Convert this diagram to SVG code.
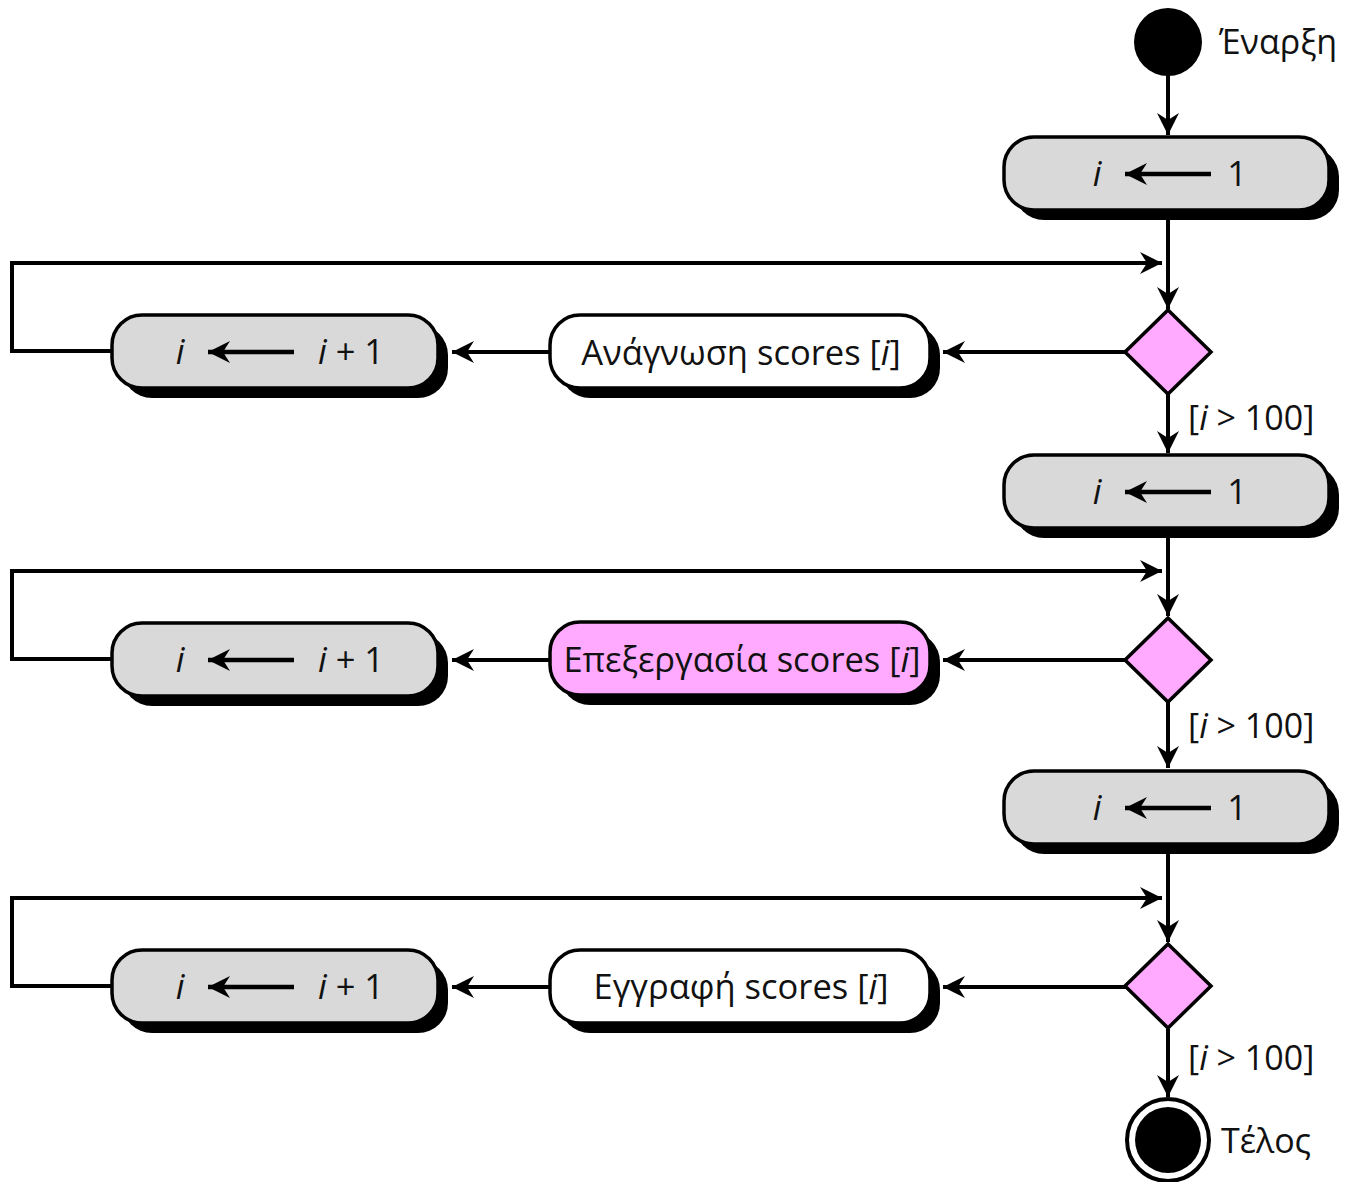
<svg xmlns="http://www.w3.org/2000/svg" width="1345" height="1182" viewBox="0 0 1345 1182">
  <style>
    .txt { font-family: "Open Sans", "Noto Sans", "DejaVu Sans", sans-serif; font-size: 34.5px; fill: #111; }
    .lbl { font-family: "Open Sans", "Noto Sans", "DejaVu Sans", sans-serif; font-size: 34px; fill: #111; }
    .it { font-style: italic; }
    .box { stroke: #000; stroke-width: 3.5; }
    .shadow { fill: #000; }
    .grey { fill: #d9d9d9; }
    .white { fill: #ffffff; }
    .pink { fill: #ffaaff; }
    .conn { fill: none; stroke: #000; stroke-width: 4; }
    .inarrow { fill: none; stroke: #000; stroke-width: 4.5; }
  </style>
  <defs>
    <marker id="head" markerUnits="userSpaceOnUse" markerWidth="26" markerHeight="26" viewBox="0 0 26 26" refX="24" refY="13" orient="auto">
      <path d="M2,2 L24,13 L2,24 L9,13 Z" fill="#000"/>
    </marker>
  </defs>

  <rect width="1345" height="1182" fill="#fff"/>

  <!-- connectors -->
  <g id="connectors">
    <line class="conn" x1="1168" y1="74" x2="1168" y2="135" marker-end="url(#head)"/>
    <!-- loop 1 -->
    <line class="conn" x1="1168" y1="210" x2="1168" y2="309" marker-end="url(#head)"/>
    <polyline class="conn" points="114,351 12,351 12,263 1162,263" marker-end="url(#head)"/>
    <line class="conn" x1="1126" y1="352" x2="943" y2="352" marker-end="url(#head)"/>
    <line class="conn" x1="550" y1="352" x2="452" y2="352" marker-end="url(#head)"/>
    <line class="conn" x1="1168" y1="394" x2="1168" y2="453" marker-end="url(#head)"/>
    <!-- loop 2 -->
    <line class="conn" x1="1168" y1="528" x2="1168" y2="616" marker-end="url(#head)"/>
    <polyline class="conn" points="114,659 12,659 12,571 1162,571" marker-end="url(#head)"/>
    <line class="conn" x1="1126" y1="660" x2="943" y2="660" marker-end="url(#head)"/>
    <line class="conn" x1="550" y1="660" x2="452" y2="660" marker-end="url(#head)"/>
    <line class="conn" x1="1168" y1="702" x2="1168" y2="768" marker-end="url(#head)"/>
    <!-- loop 3 -->
    <line class="conn" x1="1168" y1="845" x2="1168" y2="942" marker-end="url(#head)"/>
    <polyline class="conn" points="114,986 12,986 12,898 1162,898" marker-end="url(#head)"/>
    <line class="conn" x1="1126" y1="987" x2="943" y2="987" marker-end="url(#head)"/>
    <line class="conn" x1="550" y1="987" x2="452" y2="987" marker-end="url(#head)"/>
    <line class="conn" x1="1168" y1="1029" x2="1168" y2="1097" marker-end="url(#head)"/>
  </g>

  <!-- start -->
  <g id="start">
    <circle cx="1168" cy="42" r="34" fill="#000"/>
    <text class="lbl" x="1219" y="54">Έναρξη</text>
  </g>

  <!-- i ← 1 (first) -->
  <g id="init1">
    <rect class="shadow" x="1014" y="147" width="325" height="73" rx="30"/>
    <rect class="box grey" x="1004" y="137" width="325" height="73" rx="30"/>
    <text class="txt it" x="1097" y="186" text-anchor="middle">i</text>
    <line class="inarrow" x1="1211" y1="174" x2="1125" y2="174" marker-end="url(#head)"/>
    <text class="txt" x="1237" y="186" text-anchor="middle">1</text>
  </g>

  <g id="decision1">
    <polygon class="box pink" points="1168,310 1211,352 1168,394 1125,352"/>
    <text class="lbl" x="1188" y="430">[<tspan class="it">i</tspan> &gt; 100]</text>
  </g>

  <g id="read">
    <rect class="shadow" x="560" y="325" width="380" height="73" rx="30"/>
    <rect class="box white" x="550" y="315" width="380" height="73" rx="30"/>
    <text class="txt" x="741" y="365" text-anchor="middle">Ανάγνωση scores [<tspan class="it">i</tspan>]</text>
  </g>

  <g id="inc1">
    <rect class="shadow" x="122" y="325" width="326" height="73" rx="30"/>
    <rect class="box grey" x="112" y="315" width="326" height="73" rx="30"/>
    <text class="txt it" x="180" y="364" text-anchor="middle">i</text>
    <line class="inarrow" x1="294" y1="352" x2="208" y2="352" marker-end="url(#head)"/>
    <text class="txt" x="318" y="364"><tspan class="it">i</tspan> + 1</text>
  </g>

  <!-- i ← 1 (second) -->
  <g id="init2">
    <rect class="shadow" x="1014" y="465" width="325" height="73" rx="30"/>
    <rect class="box grey" x="1004" y="455" width="325" height="73" rx="30"/>
    <text class="txt it" x="1097" y="504" text-anchor="middle">i</text>
    <line class="inarrow" x1="1211" y1="492" x2="1125" y2="492" marker-end="url(#head)"/>
    <text class="txt" x="1237" y="504" text-anchor="middle">1</text>
  </g>

  <g id="decision2">
    <polygon class="box pink" points="1168,618 1211,660 1168,702 1125,660"/>
    <text class="lbl" x="1188" y="738">[<tspan class="it">i</tspan> &gt; 100]</text>
  </g>

  <g id="process">
    <rect class="shadow" x="560" y="632" width="380" height="73" rx="30"/>
    <rect class="box pink" x="550" y="622" width="380" height="73" rx="30"/>
    <text class="txt" x="742" y="672" text-anchor="middle">Επεξεργασία scores [<tspan class="it">i</tspan>]</text>
  </g>

  <g id="inc2">
    <rect class="shadow" x="122" y="633" width="326" height="73" rx="30"/>
    <rect class="box grey" x="112" y="623" width="326" height="73" rx="30"/>
    <text class="txt it" x="180" y="672" text-anchor="middle">i</text>
    <line class="inarrow" x1="294" y1="660" x2="208" y2="660" marker-end="url(#head)"/>
    <text class="txt" x="318" y="672"><tspan class="it">i</tspan> + 1</text>
  </g>

  <!-- i ← 1 (third) -->
  <g id="init3">
    <rect class="shadow" x="1014" y="781" width="325" height="73" rx="30"/>
    <rect class="box grey" x="1004" y="771" width="325" height="73" rx="30"/>
    <text class="txt it" x="1097" y="820" text-anchor="middle">i</text>
    <line class="inarrow" x1="1211" y1="808" x2="1125" y2="808" marker-end="url(#head)"/>
    <text class="txt" x="1237" y="820" text-anchor="middle">1</text>
  </g>

  <g id="decision3">
    <polygon class="box pink" points="1168,944 1211,986 1168,1028 1125,986"/>
    <text class="lbl" x="1188" y="1070">[<tspan class="it">i</tspan> &gt; 100]</text>
  </g>

  <g id="write">
    <rect class="shadow" x="560" y="960" width="380" height="73" rx="30"/>
    <rect class="box white" x="550" y="950" width="380" height="73" rx="30"/>
    <text class="txt" x="741" y="999" text-anchor="middle">Εγγραφή scores [<tspan class="it">i</tspan>]</text>
  </g>

  <g id="inc3">
    <rect class="shadow" x="122" y="960" width="326" height="73" rx="30"/>
    <rect class="box grey" x="112" y="950" width="326" height="73" rx="30"/>
    <text class="txt it" x="180" y="999" text-anchor="middle">i</text>
    <line class="inarrow" x1="294" y1="987" x2="208" y2="987" marker-end="url(#head)"/>
    <text class="txt" x="318" y="999"><tspan class="it">i</tspan> + 1</text>
  </g>

  <!-- end -->
  <g id="end">
    <circle cx="1168" cy="1140" r="41" fill="#fff" stroke="#000" stroke-width="4"/>
    <circle cx="1168" cy="1140" r="33" fill="#000"/>
    <text class="lbl" x="1221" y="1153">Τέλος</text>
  </g>
</svg>
